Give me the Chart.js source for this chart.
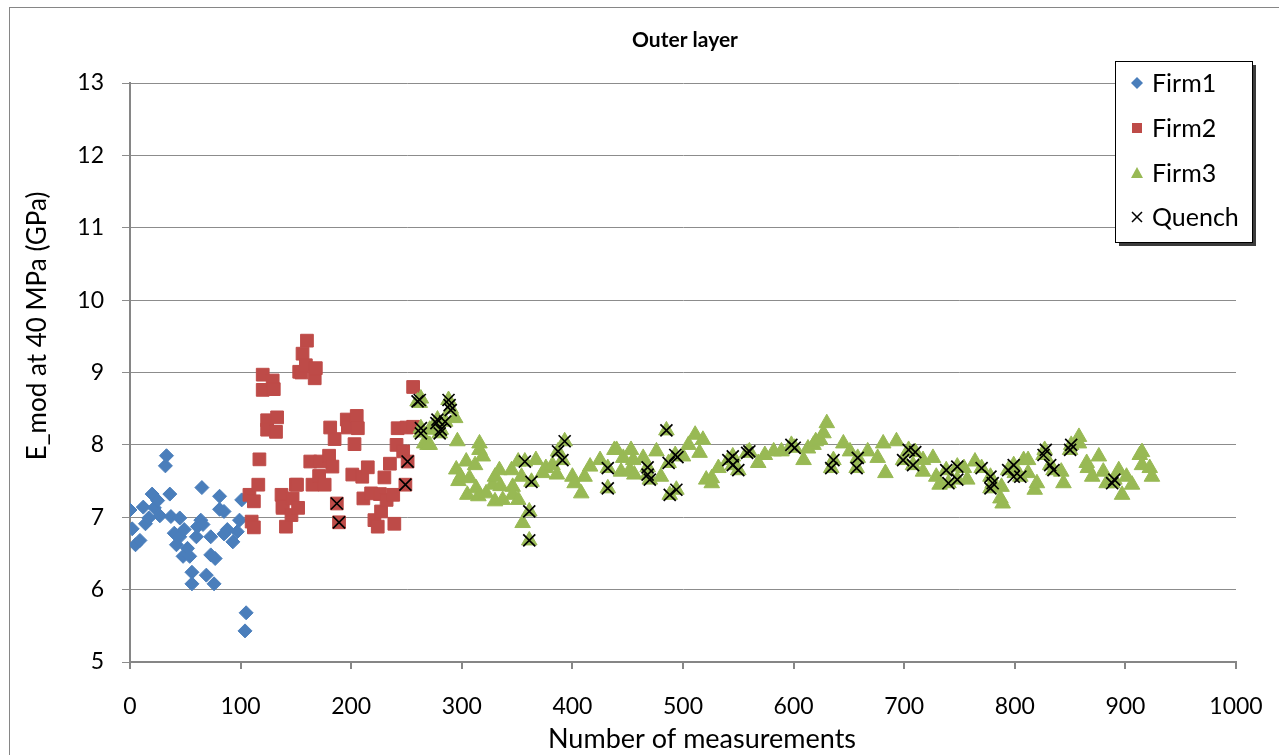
<!DOCTYPE html>
<html>
<head>
<meta charset="utf-8">
<script src="https://cdn.jsdelivr.net/npm/chart.js@4/dist/chart.umd.min.js"></script>
<style>
  body { margin: 0; background: #fff; }
  canvas { display: block; }
</style>
</head>
<body>
<canvas id="chart" width="1279" height="755"></canvas>
<script>
// measurement data per series (x = measurement number, y = E_mod in GPa)
const firm1X = [0, 2, 5, 9, 12, 14, 17, 20, 22, 25, 27, 32, 33, 36, 37, 40, 42, 45, 45, 48, 49, 52, 54, 56, 56, 60, 61, 64, 65, 66, 69, 73, 73, 76, 77, 81, 81, 85, 85, 88, 93, 97, 99, 101, 105, 104];
const firm1Y = [7.10, 6.84, 6.62, 6.68, 7.14, 6.91, 6.99, 7.32, 7.13, 7.23, 7.02, 7.71, 7.85, 7.32, 7.01, 6.78, 6.62, 6.99, 6.73, 6.46, 6.83, 6.57, 6.46, 6.24, 6.08, 6.73, 6.87, 6.96, 7.41, 6.90, 6.20, 6.73, 6.48, 6.08, 6.43, 7.29, 7.11, 7.08, 6.77, 6.83, 6.66, 6.80, 6.96, 7.24, 5.68, 5.43];

const firm2X = [108, 110, 112, 112, 116, 117, 120, 120, 124, 124, 129, 130, 132, 133, 137, 138, 138, 141, 146, 147, 150, 151, 152, 153, 155, 156, 159, 160, 163, 165, 167, 168, 171, 172, 176, 180, 181, 183, 185, 187, 189, 196, 197, 201, 203, 205, 206, 210, 211, 215, 218, 221, 224, 226, 227, 230, 232, 235, 238, 239, 241, 242, 247, 249, 250, 251, 256, 256];
const firm2Y = [7.31, 6.94, 7.22, 6.86, 7.45, 7.80, 8.97, 8.76, 8.34, 8.21, 8.89, 8.77, 8.18, 8.38, 7.31, 7.13, 7.15, 6.87, 7.03, 7.26, 7.45, 7.45, 7.13, 9.01, 9.00, 9.26, 9.10, 9.44, 7.77, 7.45, 8.92, 9.06, 7.57, 7.77, 7.45, 7.85, 8.24, 7.70, 8.08, 7.19, 6.93, 8.35, 8.24, 7.59, 8.01, 8.40, 8.23, 7.56, 7.26, 7.69, 7.33, 6.96, 6.87, 7.32, 7.08, 7.55, 7.24, 7.74, 7.31, 6.91, 8.00, 8.23, 7.91, 7.45, 8.24, 7.77, 8.25, 8.80];

const firm3X = [260, 262, 263, 263, 263, 266, 269, 271, 271, 277, 278, 280, 281, 285, 288, 290, 294, 296, 295, 297, 299, 304, 305, 307, 312, 313, 315, 316, 316, 319, 322, 328, 330, 330, 334, 335, 337, 345, 346, 346, 351, 351, 354, 355, 357, 361, 361, 363, 367, 373, 376, 382, 386, 387, 391, 393, 400, 402, 408, 411, 416, 425, 432, 432, 438, 440, 444, 446, 452, 453, 455, 456, 464, 468, 468, 470, 476, 480, 485, 487, 488, 493, 494, 500, 505, 511, 515, 518, 521, 526, 526, 532, 541, 545, 545, 550, 558, 560, 568, 574, 582, 589, 598, 601, 609, 613, 618, 620, 624, 627, 630, 634, 636, 645, 651, 657, 658, 667, 676, 681, 683, 693, 699, 704, 708, 710, 717, 717, 726, 729, 732, 738, 740, 748, 748, 754, 757, 764, 770, 778, 778, 780, 787, 788, 789, 794, 799, 800, 805, 808, 812, 812, 818, 820, 826, 827, 832, 835, 842, 844, 850, 851, 858, 858, 865, 866, 870, 876, 880, 883, 888, 890, 894, 897, 901, 906, 913, 915, 915, 922, 924];
const firm3Y = [8.60, 8.58, 8.64, 8.23, 8.17, 8.02, 8.00, 8.21, 8.00, 8.30, 8.35, 8.16, 8.21, 8.32, 8.62, 8.50, 8.37, 8.05, 7.66, 7.50, 7.56, 7.77, 7.31, 7.54, 7.72, 7.40, 7.29, 8.02, 7.93, 7.84, 7.33, 7.45, 7.56, 7.22, 7.65, 7.43, 7.24, 7.65, 7.42, 7.31, 7.24, 7.77, 7.56, 6.92, 7.77, 7.08, 6.68, 7.49, 7.79, 7.61, 7.68, 7.72, 7.59, 7.91, 7.79, 8.05, 7.56, 7.47, 7.33, 7.56, 7.70, 7.79, 7.68, 7.40, 7.93, 7.93, 7.63, 7.82, 7.65, 7.93, 7.79, 7.59, 7.82, 7.69, 7.59, 7.52, 7.91, 7.56, 8.20, 7.75, 7.31, 7.86, 7.38, 7.84, 8.00, 8.14, 7.89, 8.07, 7.52, 7.54, 7.47, 7.68, 7.79, 7.84, 7.72, 7.65, 7.89, 7.91, 7.75, 7.86, 7.91, 7.91, 8.00, 7.96, 7.79, 7.95, 8.00, 8.05, 8.07, 8.16, 8.30, 7.68, 7.79, 8.02, 7.91, 7.68, 7.82, 7.91, 7.82, 8.02, 7.61, 8.05, 7.79, 7.93, 7.72, 7.90, 7.79, 7.63, 7.82, 7.56, 7.45, 7.65, 7.47, 7.70, 7.52, 7.68, 7.52, 7.77, 7.68, 7.56, 7.40, 7.47, 7.26, 7.42, 7.19, 7.65, 7.72, 7.61, 7.56, 7.79, 7.79, 7.61, 7.38, 7.47, 7.86, 7.93, 7.72, 7.65, 7.63, 7.47, 7.93, 8.00, 8.11, 8.02, 7.75, 7.68, 7.56, 7.84, 7.63, 7.47, 7.47, 7.52, 7.65, 7.31, 7.56, 7.45, 7.86, 7.90, 7.72, 7.68, 7.56];

const quenchX = [187, 189, 249, 251, 260, 262, 263, 263, 277, 278, 280, 281, 285, 288, 289, 290, 357, 361, 361, 363, 387, 391, 393, 432, 432, 468, 468, 470, 485, 487, 488, 493, 494, 495, 541, 545, 545, 550, 558, 560, 598, 601, 634, 636, 657, 658, 699, 704, 708, 710, 738, 740, 748, 748, 770, 778, 778, 780, 794, 799, 799, 805, 826, 828, 832, 835, 850, 851, 888, 890];
const quenchY = [7.19, 6.93, 7.45, 7.77, 8.60, 8.62, 8.23, 8.16, 8.30, 8.35, 8.16, 8.21, 8.32, 8.62, 8.55, 8.48, 7.77, 7.08, 6.68, 7.49, 7.91, 7.79, 8.05, 7.68, 7.40, 7.69, 7.59, 7.52, 8.20, 7.75, 7.31, 7.86, 7.38, 7.83, 7.79, 7.84, 7.72, 7.65, 7.89, 7.91, 8.00, 7.96, 7.68, 7.79, 7.68, 7.82, 7.79, 7.93, 7.72, 7.90, 7.65, 7.47, 7.70, 7.52, 7.68, 7.56, 7.40, 7.47, 7.65, 7.72, 7.56, 7.56, 7.86, 7.93, 7.72, 7.65, 7.93, 8.00, 7.47, 7.52];

const xTicks = [0, 100, 200, 300, 400, 500, 600, 700, 800, 900, 1000];
const yTicks = [5, 6, 7, 8, 9, 10, 11, 12, 13];

const FONT = 'Lato, "Open Sans", sans-serif';

function toPoints(xs, ys) {
    return xs.map((x, i) => ({ x: x, y: ys[i] }));
}

// series styles, shared with the legend; higher order is drawn underneath
const series = [
    { label: 'Firm1', xs: firm1X, ys: firm1Y, style: 'rectRot', color: '#4a7ebb', radius: 7, order: 3 },
    { label: 'Firm2', xs: firm2X, ys: firm2Y, style: 'rect', color: '#be4b48', radius: 9, order: 2 },
    { label: 'Firm3', xs: firm3X, ys: firm3Y, style: 'triangle', color: '#98b954', radius: 9, order: 1 },
    { label: 'Quench', xs: quenchX, ys: quenchY, style: 'crossRot', color: '#000000', radius: 8.5, order: 0 }
];

// frame, titles and legend box
const decorations = {
    id: 'decorations',
    afterDraw(chart) {
        const c = chart.ctx;
        c.save();
        c.strokeStyle = '#868686';
        c.lineWidth = 1;
        c.strokeRect(9.5, 7.5, 1400, 900);

        c.fillStyle = '#000';
        c.textAlign = 'center';
        c.textBaseline = 'middle';
        c.font = 'bold 21px ' + FONT;
        c.fillText('Outer layer', 685, 40);

        c.font = '27px ' + FONT;
        c.fillText('Number of measurements', 702, 739);

        c.translate(38, 326);
        c.rotate(-Math.PI / 2);
        c.font = '26px ' + FONT;
        c.fillText('E_mod at 40 MPa (GPa)', 0, 0);
        c.restore();

        // legend
        c.save();
        const bx = 1115, by = 61, bw = 137, bh = 181;
        c.fillStyle = '#3c3c3c';
        c.fillRect(bx + 4, by + 4, bw, bh);
        c.fillStyle = '#fff';
        c.fillRect(bx, by, bw, bh);
        c.strokeStyle = '#000';
        c.lineWidth = 1;
        c.strokeRect(bx + 0.5, by + 0.5, bw, bh);
        const rows = [83, 128, 173, 217];
        series.forEach((s, i) => {
            const cx = 1137, cy = rows[i];
            c.fillStyle = s.color;
            c.strokeStyle = s.color;
            c.beginPath();
            if (s.style === 'rectRot') {
                c.moveTo(cx, cy - 6); c.lineTo(cx + 6, cy); c.lineTo(cx, cy + 6); c.lineTo(cx - 6, cy);
                c.closePath(); c.fill();
            } else if (s.style === 'rect') {
                c.fillRect(cx - 5, cy - 5, 10, 10);
            } else if (s.style === 'triangle') {
                c.moveTo(cx, cy - 6); c.lineTo(cx + 6, cy + 5); c.lineTo(cx - 6, cy + 5);
                c.closePath(); c.fill();
            } else {
                c.lineWidth = 1.5;
                c.moveTo(cx - 5, cy - 5); c.lineTo(cx + 5, cy + 5);
                c.moveTo(cx + 5, cy - 5); c.lineTo(cx - 5, cy + 5);
                c.stroke();
            }
            c.fillStyle = '#000';
            c.textAlign = 'left';
            c.textBaseline = 'middle';
            c.font = '25px ' + FONT;
            c.fillText(s.label, 1152, cy + 1);
        });
        c.restore();
    }
};

const ctx = document.getElementById('chart').getContext('2d');
new Chart(ctx, {
    type: 'scatter',
    data: {
        datasets: series.map(s => ({
            label: s.label,
            data: toPoints(s.xs, s.ys),
            order: s.order,
            pointStyle: s.style,
            pointRadius: s.radius,
            backgroundColor: s.color,
            borderColor: s.style === 'crossRot' ? '#000' : s.color,
            borderWidth: s.style === 'crossRot' ? 1.7 : 1
        }))
    },
    options: {
        responsive: false,
        animation: false,
        events: [],
        layout: { padding: { left: 10, right: 43, top: 83, bottom: 0 } },
        plugins: {
            legend: { display: false },
            tooltip: { enabled: false }
        },
        scales: {
            x: {
                type: 'linear',
                min: 0,
                max: 1000,
                afterBuildTicks: scale => { scale.ticks = xTicks.map(v => ({ value: v })); },
                afterFit: scale => {
                    scale.height = 93;
                    scale.paddingLeft = 0;
                    scale.paddingRight = 0;
                },
                ticks: { color: '#000', font: { family: FONT, size: 23 }, padding: 24, maxRotation: 0,
                         callback: v => String(v) },
                grid: { drawOnChartArea: false, tickLength: 7, color: '#868686', lineWidth: 2 },
                border: { color: '#868686', width: 2 }
            },
            y: {
                type: 'linear',
                min: 5,
                max: 13,
                afterBuildTicks: scale => { scale.ticks = yTicks.map(v => ({ value: v })); },
                afterFit: scale => {
                    scale.width = 120;
                    scale.paddingTop = 0;
                    scale.paddingBottom = 0;
                },
                ticks: { color: '#000', font: { family: FONT, size: 23 }, padding: 18 },
                grid: { color: '#8c8c8c', tickLength: 8, lineWidth: 1 },
                border: { color: '#868686', width: 2 }
            }
        }
    },
    plugins: [decorations]
});
</script>
</body>
</html>
